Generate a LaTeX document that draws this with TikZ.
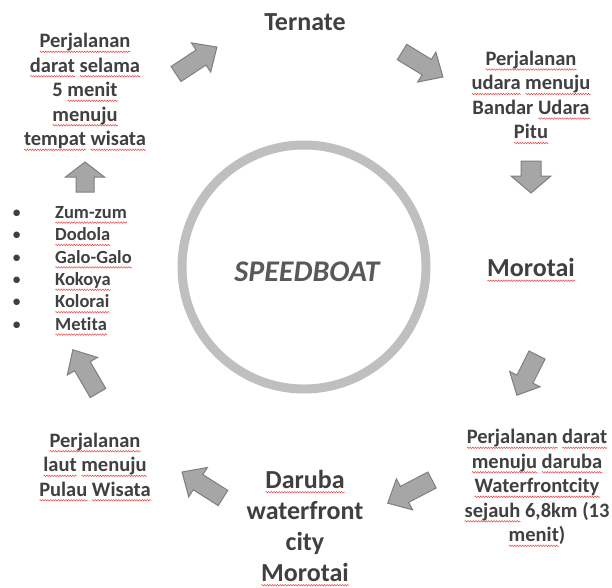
\documentclass[tikz,border=0pt]{standalone}
\usepackage{fontspec}
\setmainfont{Carlito}[Ligatures=NoCommon]
\usetikzlibrary{decorations.pathmorphing}
\definecolor{txt}{HTML}{404040}
\definecolor{sbt}{HTML}{595959}
\definecolor{afill}{HTML}{A6A6A6}
\definecolor{aline}{HTML}{7F7F7F}
\definecolor{ringc}{HTML}{BFBFBF}
\definecolor{spell}{HTML}{F03C3C}
\newsavebox\sqbox
\newlength\sqlen
\newcommand\sq[1]{\sbox\sqbox{#1}\setlength\sqlen{\wd\sqbox}%
  \rlap{\tikz[baseline=0pt,x=1pt,y=1pt]\draw[spell,line width=0.45pt,decorate,
    decoration={zigzag,amplitude=0.8pt,segment length=2.6pt}] (0,-4.2) -- (\sqlen,-4.2);}#1}
\newcommand\blockarrow[6]{%
  \begin{scope}[shift={#1},rotate=#2]
    \filldraw[arrowbox] (0,{-#5/2}) -- ({#3-#6},{-#5/2}) -- ({#3-#6},{-#4/2}) -- (#3,0)
      -- ({#3-#6},{#4/2}) -- ({#3-#6},{#5/2}) -- (0,{#5/2}) -- cycle;
  \end{scope}}
\tikzset{
  arrowbox/.style={fill=afill,draw=aline,line width=1pt,line join=miter},
  body/.style={inner sep=0pt,align=center,text=txt,font=\fontsize{20.5}{24.5}\selectfont\bfseries},
  head/.style={inner sep=0pt,align=center,text=txt,font=\fontsize{26}{31}\selectfont\bfseries},
  blist/.style={inner sep=0pt,align=left,text=txt,font=\fontsize{18.5}{22.4}\selectfont\bfseries},
}
\newcommand\bl{\makebox[43pt][l]{\normalfont\textbullet}}
\begin{document}
\begin{tikzpicture}[x=1pt,y=1pt]
\useasboundingbox (0,0) rectangle (612,-587);
% ring
\draw[ringc,line width=9pt] (304,-267) circle (122);
\node[inner sep=0pt,text=sbt,font=\fontsize{30}{32}\selectfont\bfseries\itshape] (sb) at (307,-272) {SPEEDBOAT};
% headings
\node[head] (ternate) at (305,-22) {Ternate};
\node[head] (morotai) at (531,-270) {\sq{Morotai}};
\node[head] (daruba) at (305,-528) {\sq{Daruba}\\waterfront\\city\\\sq{Morotai}};
% body texts
\node[body] (tl) at (85,-92) {\sq{Perjalanan}\\\sq{darat} \sq{selama}\\5 \sq{menit}\\\sq{menuju}\\\sq{tempat} \sq{wisata}};
\node[body] (tr) at (531,-97.5) {\sq{Perjalanan}\\\sq{udara} \sq{menuju}\\Bandar \sq{Udara}\\\sq{Pitu}};
\node[body] (br) at (537,-488) {\sq{Perjalanan} \sq{darat}\\\sq{menuju} \sq{daruba}\\\sq{Waterfrontcity}\\\sq{sejauh} 6,8km (13\\\sq{menit})};
\node[body] (bl) at (95,-467) {\sq{Perjalanan}\\\sq{laut} \sq{menuju}\\\sq{Pulau} \sq{Wisata}};
\node[blist,anchor=west] (list) at (12,-271) {\bl\sq{Zum-zum}\\\bl\sq{Dodola}\\\bl\sq{Galo-Galo}\\\bl\sq{Kokoya}\\\bl\sq{Kolorai}\\\bl\sq{Metita}};
% arrows
\blockarrow{(176,-74)}{33.4}{49}{35}{18}{19}
\blockarrow{(402,-52)}{-31.4}{48}{35}{18}{19}
\blockarrow{(531,-161)}{-90}{32}{40}{20}{17}
\blockarrow{(537,-355)}{-116.6}{45}{34}{18}{18}
\blockarrow{(432,-480)}{207.6}{50}{35}{18}{19}
\blockarrow{(223,-498)}{147.6}{48.5}{35}{18}{19}
\blockarrow{(98,-393)}{120.2}{50}{35}{18}{19}
\blockarrow{(85,-192)}{90}{30}{39}{18}{15}
\end{tikzpicture}
\end{document}
